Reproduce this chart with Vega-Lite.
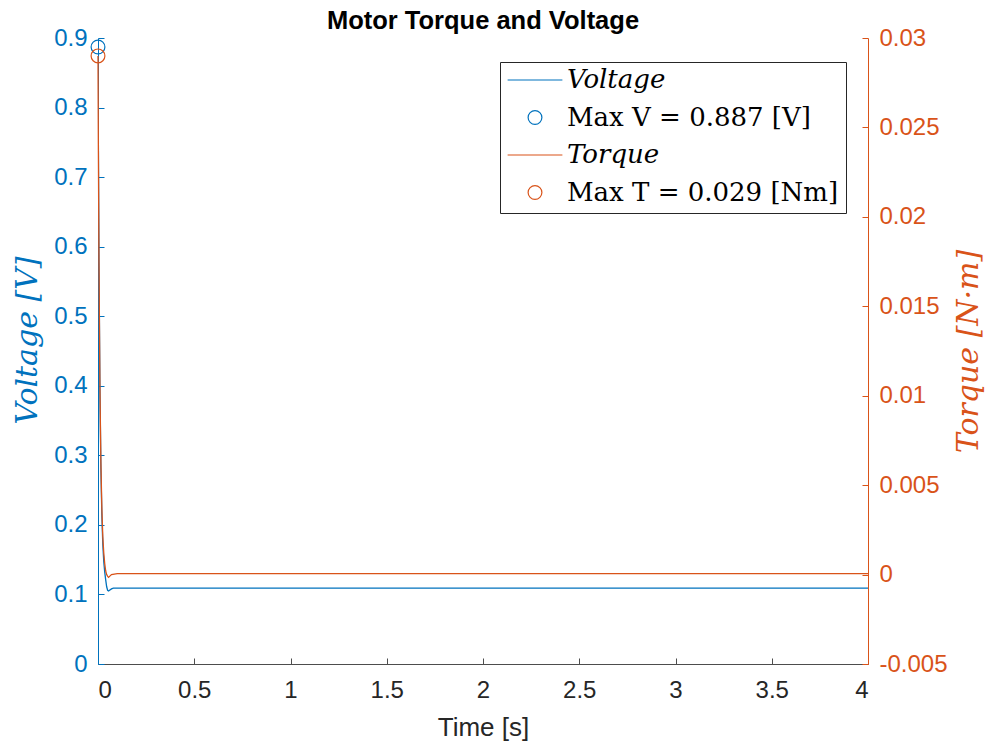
{
  "$schema": "https://vega.github.io/schema/vega-lite/v6.json",
  "width": 770,
  "height": 626,
  "autosize": {"type": "none"},
  "padding": {"left": 98, "top": 38, "right": 122, "bottom": 80},
  "background": "white",
  "config": {
    "view": {"stroke": null},
    "font": "Liberation Sans",
    "axis": {"grid": false, "labelFont": "Liberation Sans", "labelFontSize": 24, "tickSize": -6, "tickWidth": 1, "domainWidth": 1}
  },
  "title": {"text": "Motor Torque and Voltage", "font": "Liberation Sans", "fontSize": 25.5, "fontWeight": "bold", "color": "black", "offset": -8, "anchor": "middle"},
  "datasets": {
    "voltage": [
      {"t": 0, "v": 0.887},
      {"t": 0.002, "v": 0.747},
      {"t": 0.005, "v": 0.581},
      {"t": 0.01, "v": 0.395},
      {"t": 0.015, "v": 0.282},
      {"t": 0.02, "v": 0.214},
      {"t": 0.025, "v": 0.172},
      {"t": 0.03, "v": 0.147},
      {"t": 0.035, "v": 0.132},
      {"t": 0.04, "v": 0.121},
      {"t": 0.045, "v": 0.111},
      {"t": 0.05, "v": 0.106},
      {"t": 0.055, "v": 0.105},
      {"t": 0.06, "v": 0.106},
      {"t": 0.07, "v": 0.108},
      {"t": 0.08, "v": 0.109},
      {"t": 0.1, "v": 0.109},
      {"t": 0.5, "v": 0.109},
      {"t": 1, "v": 0.109},
      {"t": 1.5, "v": 0.109},
      {"t": 2, "v": 0.109},
      {"t": 2.5, "v": 0.109},
      {"t": 3, "v": 0.109},
      {"t": 3.5, "v": 0.109},
      {"t": 4, "v": 0.109}
    ],
    "torque": [
      {"t": 0, "tq": 0.029},
      {"t": 0.002, "tq": 0.0237},
      {"t": 0.005, "tq": 0.0175},
      {"t": 0.01, "tq": 0.0105},
      {"t": 0.015, "tq": 0.0063},
      {"t": 0.02, "tq": 0.0037},
      {"t": 0.025, "tq": 0.0021},
      {"t": 0.03, "tq": 0.0012},
      {"t": 0.035, "tq": 0.0006},
      {"t": 0.04, "tq": 0.0002},
      {"t": 0.045, "tq": 0.0},
      {"t": 0.05, "tq": -0.0001},
      {"t": 0.055, "tq": -0.00015},
      {"t": 0.06, "tq": -0.0001},
      {"t": 0.07, "tq": 0.0},
      {"t": 0.1, "tq": 0.00005},
      {"t": 0.5, "tq": 0.00005},
      {"t": 1, "tq": 0.00005},
      {"t": 1.5, "tq": 0.00005},
      {"t": 2, "tq": 0.00005},
      {"t": 2.5, "tq": 0.00005},
      {"t": 3, "tq": 0.00005},
      {"t": 3.5, "tq": 0.00005},
      {"t": 4, "tq": 0.00005}
    ],
    "vmax": [{"t": 0, "v": 0.887}],
    "tmax": [{"t": 0, "tq": 0.029}]
  },
  "layer": [
    {
      "layer": [
        {
          "data": {"name": "voltage"},
          "mark": {"type": "line", "strokeWidth": 1.3, "clip": true},
          "encoding": {
            "x": {"field": "t", "type": "quantitative", "scale": {"domain": [0, 4], "nice": false},
              "axis": {"title": "Time [s]", "titleFont": "Liberation Sans", "titleFontSize": 26, "titleFontWeight": "normal", "titleColor": "#262626", "titlePadding": 12, "labelColor": "#262626", "domainColor": "#4d4d4d", "tickColor": "#4d4d4d", "labelPadding": 20, "values": [0, 0.5, 1, 1.5, 2, 2.5, 3, 3.5, 4], "format": "~g"}},
            "y": {"field": "v", "type": "quantitative", "scale": {"domain": [0, 0.9], "nice": false, "zero": false},
              "axis": {"title": "Voltage [V]", "titleFont": "DejaVu Serif", "titleFontStyle": "italic", "titleFontWeight": "normal", "titleFontSize": 30, "titleColor": "#0072BD", "titlePadding": 11, "titleY": 302, "labelColor": "#0072BD", "domainColor": "#0072BD", "tickColor": "#0072BD", "labelPadding": 17, "values": [0, 0.1, 0.2, 0.3, 0.4, 0.5, 0.6, 0.7, 0.8, 0.9], "format": "~g"}},
            "color": {"datum": "Voltage", "type": "nominal",
              "scale": {"domain": ["Voltage", "Max V = 0.887 [V]", "Torque", "Max T = 0.029 [Nm]"], "range": ["#0072BD", "#0072BD", "#D95319", "#D95319"]},
              "legend": {
                "title": null, "orient": "none", "legendX": 402, "legendY": 24, "direction": "vertical",
                "fillColor": "white", "strokeColor": "#262626", "padding": 7,
                "labelFont": "DejaVu Serif", "labelFontSize": 26, "labelColor": "black", "labelLimit": 500,
                "symbolSize": 3000, "symbolType": "stroke", "symbolStrokeWidth": 1.2, "symbolOffset": 15,
                "labelOffset": 19, "rowPadding": 11.5, "clipHeight": 22,
                "encode": {
                  "symbols": {"update": {
                    "shape": {"signal": "indexof(['Voltage','Torque'], datum.value) >= 0 ? 'stroke' : 'circle'"},
                    "size": {"signal": "indexof(['Voltage','Torque'], datum.value) >= 0 ? 3000 : 190"},
                    "fill": {"value": "transparent"},
                    "stroke": {"signal": "indexof(['Voltage','Max V = 0.887 [V]'], datum.value) >= 0 ? '#0072BD' : '#D95319'"},
                    "strokeWidth": {"value": 1.2},
                    "opacity": {"value": 1}
                  }},
                  "labels": {"update": {
                    "fontStyle": {"signal": "indexof(['Voltage','Torque'], datum.value) >= 0 ? 'italic' : 'normal'"}
                  }}
                }
              }}
          }
        },
        {
          "data": {"name": "vmax"},
          "mark": {"type": "point", "shape": "circle", "filled": false, "size": 190, "strokeWidth": 1.2, "opacity": 1, "clip": false},
          "encoding": {
            "x": {"field": "t", "type": "quantitative"},
            "y": {"field": "v", "type": "quantitative"},
            "color": {"datum": "Max V = 0.887 [V]", "type": "nominal"}
          }
        }
      ]
    },
    {
      "layer": [
        {
          "data": {"name": "torque"},
          "mark": {"type": "line", "strokeWidth": 1.3},
          "encoding": {
            "x": {"field": "t", "type": "quantitative"},
            "y": {"field": "tq", "type": "quantitative", "scale": {"domain": [-0.005, 0.03], "nice": false, "zero": false},
              "axis": {"orient": "right", "title": "Torque [N·m]", "titleFont": "DejaVu Serif", "titleFontStyle": "italic", "titleFontWeight": "normal", "titleFontSize": 30, "titleColor": "#D95319", "titleAngle": -90, "titleBaseline": "top", "titlePadding": 6, "labelColor": "#D95319", "domainColor": "#D95319", "tickColor": "#D95319", "labelPadding": 17, "values": [-0.005, 0, 0.005, 0.01, 0.015, 0.02, 0.025, 0.03], "labelExpr": "datum.value < 0 ? '-' + format(-datum.value, '~g') : format(datum.value, '~g')"}},
            "color": {"datum": "Torque", "type": "nominal"}
          }
        },
        {
          "data": {"name": "tmax"},
          "mark": {"type": "point", "shape": "circle", "filled": false, "size": 190, "strokeWidth": 1.2, "opacity": 1, "clip": false},
          "encoding": {
            "x": {"field": "t", "type": "quantitative"},
            "y": {"field": "tq", "type": "quantitative"},
            "color": {"datum": "Max T = 0.029 [Nm]", "type": "nominal"}
          }
        }
      ]
    }
  ],
  "resolve": {"scale": {"y": "independent"}, "axis": {"y": "independent"}}
}
